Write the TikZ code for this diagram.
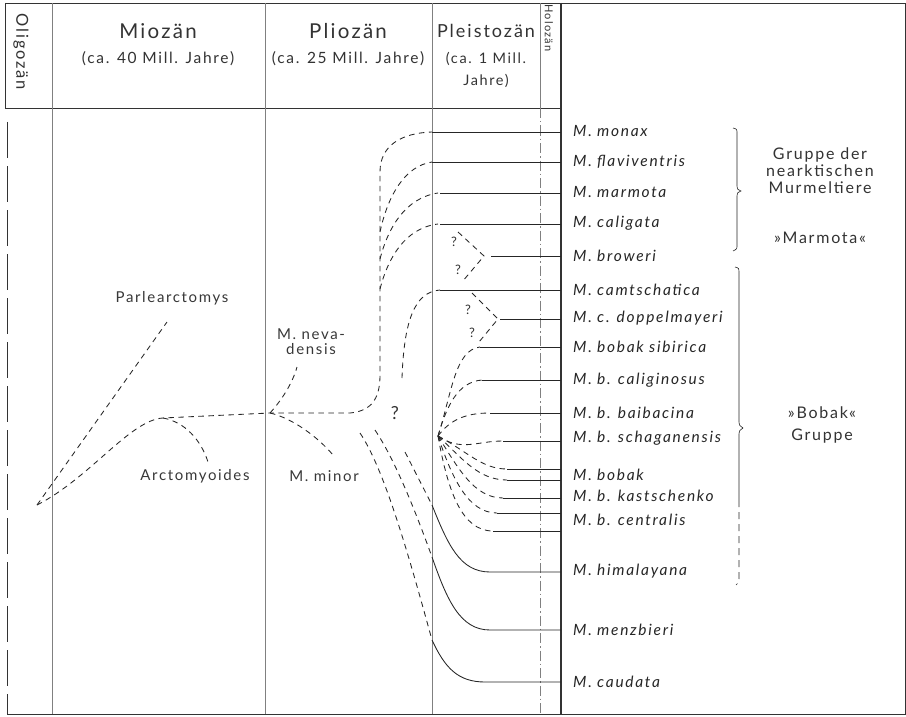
\documentclass[tikz,border=0pt]{standalone}
\usepackage{fontspec}
\setmainfont{Lato}[LetterSpace=11]
\begin{document}
\begin{tikzpicture}[x=1pt,y=-1pt,
  frame/.style={draw=black!80, line width=0.8pt},
  grid/.style={draw=black!50, line width=0.6pt},
  dsh/.style={draw=black!85, line width=0.85pt, dash pattern=on 5.5pt off 4.5pt},
  sol/.style={draw=black!85, line width=0.85pt},
  sp/.style={anchor=west, font=\fontsize{15.5}{17}\selectfont\itshape, text=black!85, inner sep=0pt},
  lab/.style={font=\fontsize{15}{17}\selectfont, text=black!78, inner sep=0pt},
  qm/.style={font=\fontsize{13}{15}\selectfont, text=black!80, inner sep=0pt},
  hd/.style={text=black!80, inner sep=0pt},
  grp/.style={align=center, font=\fontsize{16}{18}\selectfont, text=black!80, inner sep=0pt}
]
\useasboundingbox (0,0) rectangle (906,717);
\fill[white] (0,0) rectangle (906,717);

% ---------- frame ----------
\draw[frame] (5,3) -- (905,3) -- (905,714) -- (7,714);
\draw[frame] (5,3) -- (5,108) -- (561,108);
\draw[frame, line width=1.3pt] (561,3) -- (561,714);
\draw[grid] (52,3) -- (52,714);
\draw[grid] (265,3) -- (265,714);
\draw[grid] (432,3) -- (432,714);
\draw[grid] (540,3) -- (540,108);
\draw[grid, dash pattern=on 10pt off 3pt on 1.5pt off 3pt] (540,108) -- (540,714);
\draw[frame, dash pattern=on 36pt off 8pt] (7,122) -- (7,714);

% ---------- header ----------
\node[hd, rotate=-90, font=\fontsize{16.5}{18}\selectfont] (olig) at (21,52) {Oligozän};
\node[hd, font=\fontsize{20.5}{22}\selectfont] (mio) at (158,31) {Miozän};
\node[hd, font=\fontsize{15.5}{17}\selectfont] (mioS) at (158,59) {(ca. 40 Mill. Jahre)};
\node[hd, font=\fontsize{20.5}{22}\selectfont] (plio) at (348,31) {Pliozän};
\node[hd, font=\fontsize{15.5}{17}\selectfont] (plioS) at (348,59) {(ca. 25 Mill. Jahre)};
\node[hd, font=\fontsize{18}{20}\selectfont] (pleist) at (486,31) {Pleistozän};
\node[hd, font=\fontsize{14.5}{16}\selectfont] (pleistS) at (486,59) {(ca. 1 Mill.};
\node[hd, font=\fontsize{14.5}{16}\selectfont] (pleistT) at (486,81) {Jahre)};
\node[hd, rotate=-90, font=\fontsize{11}{12}\selectfont] (holo) at (549,28) {Holozän};

% ---------- species ----------
\node[sp] (s1) at (573,131) {M. monax};
\node[sp] (s2) at (573,162) {M. flaviventris};
\node[sp] (s3) at (573,192) {M. marmota};
\node[sp] (s4) at (573,223) {M. caligata};
\node[sp] (s5) at (573,256) {M. broweri};
\node[sp] (s6) at (573,290) {M. camtschatica};
\node[sp] (s7) at (573,318) {M. c. doppelmayeri};
\node[sp] (s8) at (573,347) {M. bobak sibirica};
\node[sp] (s9) at (573,380) {M. b. caliginosus};
\node[sp] (s10) at (573,413) {M. b. baibacina};
\node[sp] (s11) at (573,438) {M. b. schaganensis};
\node[sp] (s12) at (573,475) {M. bobak};
\node[sp] (s13) at (573,496) {M. b. kastschenko};
\node[sp] (s14) at (573,520) {M. b. centralis};
\node[sp] (s15) at (573,571) {M. himalayana};
\node[sp] (s16) at (573,630) {M. menzbieri};
\node[sp] (s17) at (573,682) {M. caudata};

% ---------- groups ----------
\node[grp] (g1) at (820,171) {Gruppe der\\[-1pt]nearktischen\\[-1pt]Murmeltiere};
\node[grp] (g1b) at (820,238) {»Marmota«};
\node[grp] (g2) at (822,425) {»Bobak«\\[4pt]Gruppe};
\draw[sol, line width=0.6pt] (733,128) .. controls (737,129) .. (737,134) -- (737,186)
  .. controls (737,189) .. (741,191) .. controls (737,193) .. (737,196) -- (737,245)
  .. controls (737,249) .. (733,251);
\draw[sol, line width=0.6pt] (735,267) .. controls (739,268) .. (739,274) -- (739,422)
  .. controls (739,425) .. (743,428) .. controls (739,431) .. (739,434) -- (739,507);
\draw[sol, line width=0.6pt, dash pattern=on 7pt off 5pt] (739,512) -- (739,578)
  .. controls (739,582) .. (736,585);

% ---------- fork points ----------
\coordinate (O) at (37,505);
\coordinate (A) at (163,418);
\coordinate (N) at (270,413);
\coordinate (V) at (380,375);
\coordinate (P) at (438,436);
\coordinate (T) at (561,0);

% ---------- early lineages ----------
\node[lab] (parl) at (172,298) {Parlearctomys};
\node[lab] (arct) at (195,476) {Arctomyoides};
\node[lab, align=center] (nev) at (311,342) {M. neva-\\[-2pt]densis};
\node[lab] (minor) at (324,476) {M. minor};
\node[font=\fontsize{18}{20}\selectfont, text=black!80, inner sep=0pt] (q0) at (395,413) {?};

\draw[dsh] (O) -- (167,322);
\draw[dsh] (O) .. controls (90,478) and (130,420) .. (A) -- (N) -- (350,413)
  .. controls (372,411) and (380,398) .. (V) -- (380,172)
  .. controls (380,145) and (402,133) .. (432,132);
\draw[dsh] (A) .. controls (185,422) and (201,440) .. (208,462);
\draw[dsh] (N) .. controls (280,402) and (292,385) .. (297,367);
\draw[dsh] (N) .. controls (292,418) and (318,437) .. (333,455);

% ---------- Marmota group ----------
\draw[sol] (432,132) -- (T |- 0,132);
\draw[dsh] (380,232) .. controls (388,195) and (405,166) .. (432,162);
\draw[sol] (432,162) -- (T |- 0,162);
\draw[dsh] (380,259) .. controls (388,228) and (405,198) .. (438,193);
\draw[sol] (440,193) -- (T |- 0,193);
\draw[dsh] (380,289) .. controls (388,258) and (405,228) .. (438,224);
\draw[sol] (440,224) -- (T |- 0,224);
\draw[dsh] (458,232) -- (484,256) -- (462,282);
\draw[sol] (491,256) -- (T |- 0,256);
\node[qm] (q1) at (454,242) {?};
\node[qm] (q2) at (458,270) {?};

% ---------- Bobak group ----------
\draw[dsh] (402,378) .. controls (404,322) and (414,292) .. (440,290);
\draw[sol] (440,290) -- (T |- 0,290);
\draw[dsh] (472,293) -- (498,319) -- (479,342);
\draw[sol] (500,319) -- (T |- 0,319);
\node[qm] (q3) at (468,310) {?};
\node[qm] (q4) at (472,333) {?};

\draw[dsh] (P) .. controls (452,392) and (455,350) .. (480,347);
\draw[sol] (480,347) -- (T |- 0,347);
\draw[dsh] (P) .. controls (447,405) and (458,382) .. (482,380);
\draw[sol] (482,380) -- (T |- 0,380);
\draw[dsh] (P) .. controls (450,420) and (465,413) .. (490,413);
\draw[sol] (490,413) -- (T |- 0,413);
\draw[dsh] (P) .. controls (462,452) and (476,441) .. (503,441);
\draw[sol] (503,441) -- (T |- 0,441);
\draw[dsh] (P) .. controls (468,452) and (482,469) .. (507,469);
\draw[sol] (507,469) -- (T |- 0,469);
\draw[dsh] (P) .. controls (462,458) and (478,480) .. (507,480);
\draw[sol] (507,480) -- (T |- 0,480);
\draw[dsh] (P) .. controls (458,468) and (474,498) .. (503,498);
\draw[sol] (503,498) -- (T |- 0,498);
\draw[dsh] (P) .. controls (452,478) and (468,513) .. (497,513);
\draw[sol] (497,513) -- (T |- 0,513);
\draw[dsh] (P) .. controls (448,492) and (462,531) .. (493,531);
\draw[sol] (493,531) -- (T |- 0,531);

% ---------- himalayana, menzbieri, caudata ----------
\draw[dsh] (405,452) -- (432,505);
\draw[sol] (432,505) .. controls (448,545) and (460,572) .. (490,572) -- (T |- 0,572);
\draw[dsh] (375,430) .. controls (395,460) and (415,510) .. (432,557);
\draw[sol] (432,557) .. controls (447,600) and (460,630) .. (490,630) -- (T |- 0,630);
\draw[dsh] (360,433) .. controls (385,470) and (410,560) .. (432,640);
\draw[sol] (432,640) .. controls (445,668) and (458,682) .. (485,682) -- (T |- 0,682);
\end{tikzpicture}
\end{document}
